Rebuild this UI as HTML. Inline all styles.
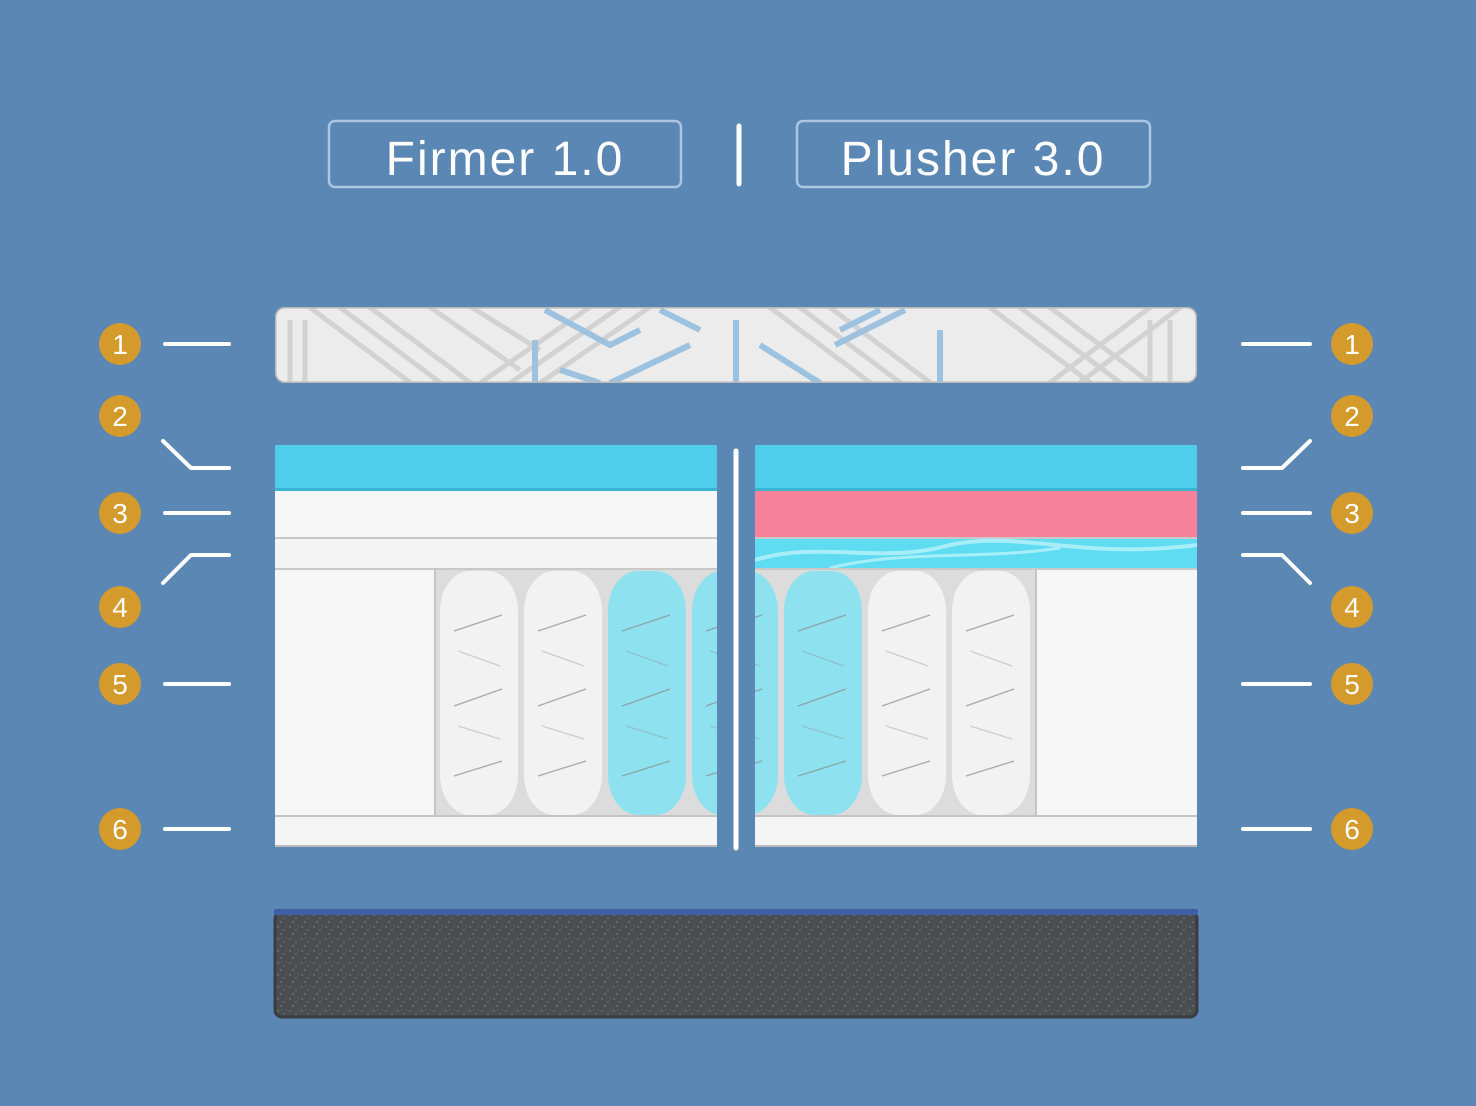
<!DOCTYPE html>
<html><head><meta charset="utf-8"><style>
html,body{margin:0;padding:0;background:#5b87b5;}
svg{display:block}
text{font-family:"Liberation Sans",sans-serif;}
</style></head><body>
<svg width="1476" height="1106" viewBox="0 0 1476 1106" xmlns="http://www.w3.org/2000/svg">
<defs>
<clipPath id="cov"><rect x="275" y="307" width="922" height="76" rx="10"/></clipPath>
<clipPath id="lp"><rect x="275" y="445" width="442" height="402"/></clipPath>
<clipPath id="rp"><rect x="755" y="445" width="442" height="402"/></clipPath>
<pattern id="noise" width="12" height="12" patternUnits="userSpaceOnUse">
<rect width="12" height="12" fill="#4b4e51"/>
<rect x="1" y="2" width="2" height="2" fill="#62666a"/><rect x="7" y="5" width="2" height="2" fill="#5d6165"/>
<rect x="4" y="9" width="2" height="2" fill="#666a6e"/><rect x="10" y="1" width="1" height="2" fill="#5a5e62"/>
</pattern>
<g id="coil">
<rect x="0" y="0" width="78" height="244" rx="30" ry="40"/>
<g stroke="#8a8a8a" stroke-width="1.3" opacity="0.7" fill="none">
<line x1="14" y1="60" x2="62" y2="44"/><line x1="14" y1="135" x2="62" y2="118"/><line x1="14" y1="205" x2="62" y2="190"/>
<line x1="18" y1="80" x2="60" y2="95" opacity="0.5"/><line x1="18" y1="155" x2="60" y2="168" opacity="0.5"/>
</g>
</g>
</defs>
<rect width="1476" height="1106" fill="#5b87b5"/>

<!-- titles -->
<rect x="329" y="121" width="352" height="66" rx="6" fill="none" stroke="#a9c6e3" stroke-width="2.5"/>
<text x="505" y="175" font-size="48" fill="#fff" text-anchor="middle" letter-spacing="2">Firmer 1.0</text>
<rect x="797" y="121" width="353" height="66" rx="6" fill="none" stroke="#a9c6e3" stroke-width="2.5"/>
<text x="973" y="175" font-size="48" fill="#fff" text-anchor="middle" letter-spacing="2">Plusher 3.0</text>
<line x1="739" y1="126" x2="739" y2="184" stroke="#fff" stroke-width="5" stroke-linecap="round"/>

<!-- cover -->
<g clip-path="url(#cov)">
<rect x="275" y="307" width="922" height="76" fill="#ececec"/>
<g stroke="#d2d2d2" stroke-width="5" fill="none">
<path d="M300 300 L420 390 M330 300 L450 390 M360 300 L480 390 M420 300 L520 370 M460 300 L540 350"/>
<path d="M600 300 L470 390 M630 300 L500 390 M660 300 L530 390"/>
<path d="M760 300 L880 390 M790 300 L910 390 M820 300 L940 390"/>
<path d="M980 300 L1100 390 M1010 300 L1130 390 M1040 300 L1160 390"/>
<path d="M1190 300 L1070 390 M1160 300 L1040 390"/>
<path d="M290 320 V383 M305 320 V383 M1150 320 V383 M1170 320 V383"/>
</g>
<g stroke="#9cc2e0" stroke-width="6" fill="none">
<path d="M545 310 L610 345 L640 330"/><path d="M660 310 L700 330"/>
<path d="M535 340 V383 M736 320 V383 M610 383 L690 345"/>
<path d="M760 345 L820 383"/><path d="M840 330 L880 310"/><path d="M835 345 L905 310"/>
<path d="M940 330 V383 M560 370 L600 383"/>
</g>
<rect x="275" y="307" width="922" height="76" rx="10" fill="none" stroke="#b8b8b8" stroke-width="3"/>
</g>

<!-- left panel -->
<g clip-path="url(#lp)">
<rect x="275" y="445" width="442" height="45" fill="#4fcdea"/>
<rect x="275" y="488" width="442" height="3" fill="#39b5d2"/>
<rect x="275" y="491" width="442" height="46" fill="#f6f6f6"/>
<rect x="275" y="537" width="442" height="2" fill="#c8c8c8"/>
<rect x="275" y="539" width="442" height="29" fill="#f4f4f4"/>
<rect x="275" y="568" width="442" height="2" fill="#c8c8c8"/>
<rect x="275" y="570" width="442" height="246" fill="#dcdcdc"/>
<rect x="275" y="570" width="160" height="246" fill="#f6f6f6"/>
<rect x="434" y="570" width="2" height="246" fill="#c4c4c4"/>
<use href="#coil" x="440" y="571" fill="#f2f2f2"/>
<use href="#coil" x="524" y="571" fill="#f2f2f2"/>
<use href="#coil" x="608" y="571" fill="#8ee2ef"/>
<use href="#coil" x="692" y="571" fill="#8ee2ef"/>
<rect x="275" y="815" width="442" height="2" fill="#c4c4c4"/>
<rect x="275" y="817" width="442" height="29" fill="#f5f5f5"/>
<rect x="275" y="845" width="442" height="2" fill="#bbb"/>
</g>

<!-- right panel -->
<g clip-path="url(#rp)">
<rect x="755" y="445" width="442" height="45" fill="#4fcdea"/>
<rect x="755" y="488" width="442" height="3" fill="#39b5d2"/>
<rect x="755" y="491" width="442" height="46" fill="#f6829a"/>
<rect x="755" y="537" width="442" height="2" fill="#c8c8c8"/>
<rect x="755" y="539" width="442" height="29" fill="#5fdcf2"/>
<path d="M755 560 C820 540 880 565 950 545 C1020 530 1080 560 1197 545" stroke="#a8eef8" stroke-width="4" fill="none"/>
<path d="M830 568 C900 550 980 560 1060 548" stroke="#a8eef8" stroke-width="3" fill="none"/>
<rect x="755" y="568" width="442" height="2" fill="#c8c8c8"/>
<rect x="755" y="570" width="442" height="246" fill="#dcdcdc"/>
<use href="#coil" x="700" y="571" fill="#8ee2ef"/>
<use href="#coil" x="784" y="571" fill="#8ee2ef"/>
<use href="#coil" x="868" y="571" fill="#f2f2f2"/>
<use href="#coil" x="952" y="571" fill="#f2f2f2"/>
<rect x="1035" y="570" width="2" height="246" fill="#c4c4c4"/>
<rect x="1037" y="570" width="160" height="246" fill="#f6f6f6"/>
<rect x="755" y="815" width="442" height="2" fill="#c4c4c4"/>
<rect x="755" y="817" width="442" height="29" fill="#f5f5f5"/>
<rect x="755" y="845" width="442" height="2" fill="#bbb"/>
</g>
<line x1="736" y1="451" x2="736" y2="848" stroke="#fff" stroke-width="5" stroke-linecap="round"/>

<!-- base -->
<rect x="275" y="912" width="922" height="105" rx="7" fill="url(#noise)"/>
<rect x="275" y="912" width="922" height="105" rx="7" fill="none" stroke="#3a3c3f" stroke-width="3"/>
<rect x="274" y="909" width="924" height="6" rx="2" fill="#3d5fa5"/>

<!-- leader lines -->
<g stroke="#fff" stroke-width="4" stroke-linecap="round" stroke-linejoin="round" fill="none">
<path d="M165 344 H229"/><path d="M163 441 L191 468 H229"/><path d="M165 513 H229"/>
<path d="M229 555 H191 L163 583"/><path d="M165 684 H229"/><path d="M165 829 H229"/>
<path d="M1243 344 H1310"/><path d="M1310 441 L1282 468 H1243"/><path d="M1243 513 H1310"/>
<path d="M1243 555 H1282 L1310 583"/><path d="M1243 684 H1310"/><path d="M1243 829 H1310"/>
</g>

<!-- badges -->
<g fill="#d49a2b">
<circle cx="120" cy="344" r="21"/><circle cx="120" cy="416" r="21"/><circle cx="120" cy="513" r="21"/>
<circle cx="120" cy="607" r="21"/><circle cx="120" cy="684" r="21"/><circle cx="120" cy="829" r="21"/>
<circle cx="1352" cy="344" r="21"/><circle cx="1352" cy="416" r="21"/><circle cx="1352" cy="513" r="21"/>
<circle cx="1352" cy="607" r="21"/><circle cx="1352" cy="684" r="21"/><circle cx="1352" cy="829" r="21"/>
</g>
<g fill="#fff" font-size="28" text-anchor="middle">
<text x="120" y="354">1</text><text x="120" y="426">2</text><text x="120" y="523">3</text>
<text x="120" y="617">4</text><text x="120" y="694">5</text><text x="120" y="839">6</text>
<text x="1352" y="354">1</text><text x="1352" y="426">2</text><text x="1352" y="523">3</text>
<text x="1352" y="617">4</text><text x="1352" y="694">5</text><text x="1352" y="839">6</text>
</g>
</svg>
</body></html>
